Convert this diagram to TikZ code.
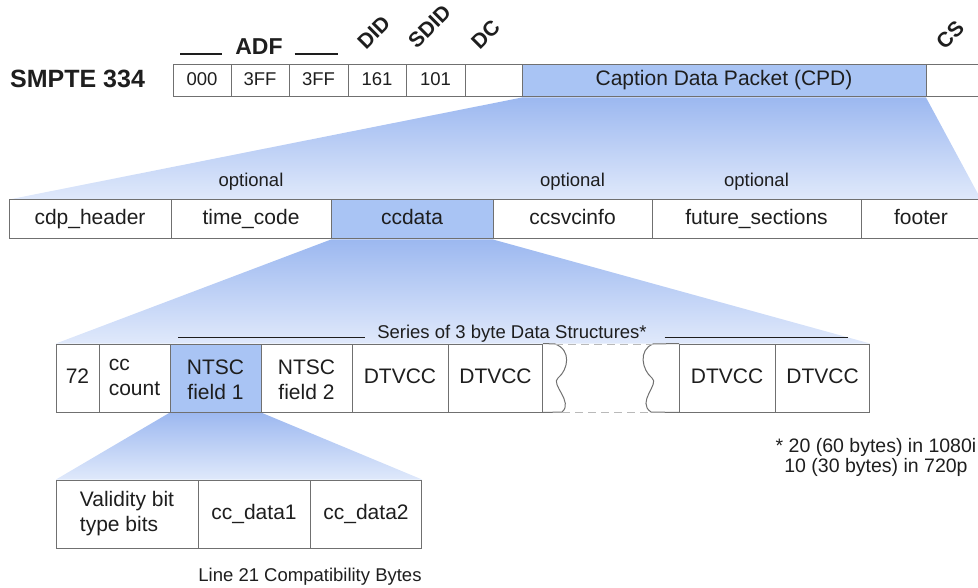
\documentclass[tikz,border=0pt]{standalone}
\usepackage{fontspec}
\setmainfont{Liberation Sans}
\usetikzlibrary{shapes,
                positioning,
                backgrounds}
\definecolor{cellblue}{RGB}{169,196,244}
\definecolor{funneltop}{RGB}{156,184,240}
\definecolor{funnelbottom}{RGB}{224,233,251}
\definecolor{linegray}{RGB}{112,112,112}
\definecolor{inkgray}{RGB}{30,30,30}
\newcommand{\cellbox}[3]{\parbox[c][#2][c]{#1}{\centering\strut #3}}
\newcommand{\leftlines}[1]{\begin{tabular}{@{}l@{}}#1\end{tabular}}
\tikzset{packet-row/.style =
   {rectangle split,
    rectangle split horizontal,
    draw=linegray,
    line width=1pt,
    inner sep=0pt,
    text=inkgray,
    font=\fontsize{21}{25.5}\selectfont}}
\tikzset{rotated-tag/.style =
   {rotate=45,
    anchor=south west,
    inner sep=0pt,
    text=inkgray,
    font=\bfseries\fontsize{21}{24}\selectfont}}
\tikzset{side-note/.style =
   {inner sep=0pt,
    text=inkgray,
    font=\fontsize{18.5}{22}\selectfont}}
\tikzset{funnel-shade/.style = {top color=funneltop, bottom color=funnelbottom}}
\tikzset{torn-edge/.style = {draw=linegray, line width=1pt}}
\tikzset{gap-line/.style = {draw=gray!55, line width=1pt, dash pattern=on 8pt off 5pt}}

\begin{document}
\begin{tikzpicture}[x=1pt, y=-1pt]

    \useasboundingbox (0,0) rectangle (978,588);

    \node [anchor=base west,
           inner sep=0pt,
           text=inkgray,
           font=\bfseries\fontsize{25}{30}\selectfont] (smpte) at (10,88) {SMPTE 334};

    \node [packet-row,
           rectangle split parts = 8,
           rectangle split part fill={white, white, white, white, white, white, cellblue, white},
           font=\fontsize{18.5}{22}\selectfont,
           anchor=west] (anc) at (173,81)
    {\nodepart{one}   {\cellbox{57pt}{32pt}{000}}
     \nodepart{two}   {\cellbox{57pt}{32pt}{3FF}}
     \nodepart{three} {\cellbox{58pt}{32pt}{3FF}}
     \nodepart{four}  {\cellbox{57pt}{32pt}{161}}
     \nodepart{five}  {\cellbox{58pt}{32pt}{101}}
     \nodepart{six}   {\cellbox{56pt}{32pt}{\mbox{}}}
     \nodepart{seven} {\cellbox{403pt}{32pt}{\fontsize{21}{24}\selectfont Caption Data Packet (CPD)}}
     \nodepart{eight} {\cellbox{57pt}{32pt}{\mbox{}}}};

    \node [side-note,
           font=\bfseries\fontsize{23}{27}\selectfont,
           anchor=base] (adf) at (259,55)
    {\rule{42pt}{1.5pt}\hspace{13pt}ADF\hspace{12pt}\rule{43pt}{1.5pt}};

    \node [rotated-tag] (did)  at ([shift={(18,-14)}]anc.three split north) {DID};
    \node [rotated-tag] (sdid) at ([shift={(11,-15)}]anc.four split north) {SDID};
    \node [rotated-tag] (dc)   at ([shift={(15,-14)}]anc.five split north) {DC};
    \node [rotated-tag] (cs)   at ([shift={(19,-14)}]anc.seven split north) {CS};

    \node [packet-row,
           rectangle split parts = 6,
           rectangle split part fill={white, white, cellblue, white, white, white},
           anchor=west] (cdp) at (9,219.5)
    {\nodepart{one}   {\cellbox{161pt}{39pt}{cdp\_header}}
     \nodepart{two}   {\cellbox{159pt}{39pt}{time\_code}}
     \nodepart{three} {\cellbox{161pt}{39pt}{ccdata}}
     \nodepart{four}  {\cellbox{158pt}{39pt}{ccsvcinfo}}
     \nodepart{five}  {\cellbox{208pt}{39pt}{future\_sections}}
     \nodepart{six}   {\cellbox{119pt}{39pt}{footer}}};

    \node [side-note, above = 9pt of cdp.two north]  (opt-time)   {optional};
    \node [side-note, above = 9pt of cdp.four north] (opt-svc)    {optional};
    \node [side-note, above = 9pt of cdp.five north] (opt-future) {optional};

    \node [packet-row,
           rectangle split parts = 6,
           rectangle split part fill={white, white, cellblue, white, white, white},
           anchor=west] (cc) at (56,378)
    {\nodepart{one}   {\cellbox{42pt}{68pt}{72}}
     \nodepart{two}   {\cellbox{70pt}{68pt}{\leftlines{cc\\count}}}
     \nodepart{three} {\cellbox{90pt}{68pt}{NTSC\\field 1}}
     \nodepart{four}  {\cellbox{90pt}{68pt}{NTSC\\field 2}}
     \nodepart{five}  {\cellbox{95pt}{68pt}{DTVCC}}
     \nodepart{six}   {\cellbox{94pt}{68pt}{DTVCC}}};

    \node [packet-row,
           rectangle split parts = 2,
           right = 136pt of cc.east] (dtv)
    {\nodepart{one}   {\cellbox{95pt}{68pt}{DTVCC}}
     \nodepart{two}   {\cellbox{94pt}{68pt}{DTVCC}}};

    \node [side-note, anchor=base] (series) at (513,338.5)
    {\rule[1pt]{187pt}{1pt}\hspace{12pt}Series of 3 byte Data Structures*\hspace{18pt}\rule[1pt]{183pt}{1pt}};

    \node [side-note,
           align=center,
           font=\fontsize{19.5}{19.5}\selectfont] (footnote) at (876,457.5)
    {* 20 (60 bytes) in 1080i\\10 (30 bytes) in 720p};

    \node [packet-row,
           rectangle split parts = 3,
           below = 67pt of cc.south west,
           anchor=north west] (line)
    {\nodepart{one}   {\cellbox{141pt}{68pt}{\leftlines{Validity bit\\type bits}}}
     \nodepart{two}   {\cellbox{111pt}{68pt}{cc\_data1}}
     \nodepart{three} {\cellbox{111pt}{68pt}{cc\_data2}}};

    \node [side-note, anchor=base] (compat) at ([yshift=-33pt]line.two split south)
    {Line 21 Compatibility Bytes};

    \coordinate (tear-left-top)     at (555,344);
    \coordinate (tear-left-bottom)  at (562,412);
    \coordinate (tear-right-top)    at (653,344);
    \coordinate (tear-right-bottom) at (651,412);

    \draw [torn-edge] (cc.north east) -- (tear-left-top)
        .. controls (572,350) and (568,370) .. (558,378)
        .. controls (550,384) and (574,402) .. (tear-left-bottom)
        -- (cc.south east);
    \draw [torn-edge] (dtv.north west) -- (tear-right-top)
        .. controls (638,350) and (642,370) .. (652,378)
        .. controls (660,384) and (636,402) .. (tear-right-bottom)
        -- (dtv.south west);
    \draw [gap-line] (tear-left-top) -- (tear-right-top);
    \draw [gap-line] (tear-left-bottom) -- (tear-right-bottom);

    \begin{scope}[on background layer]
        \shade [funnel-shade] (anc.six split south) -- (anc.seven split south)
            -- (cdp.north east) -- (cdp.north west) -- cycle;
        \shade [funnel-shade] (cdp.two split south) -- (cdp.three split south)
            -- (dtv.north east) -- (cc.north west) -- cycle;
        \shade [funnel-shade] (cc.two split south) -- (cc.three split south)
            -- (line.north east) -- (line.north west) -- cycle;
    \end{scope}

\end{tikzpicture}
\end{document}
